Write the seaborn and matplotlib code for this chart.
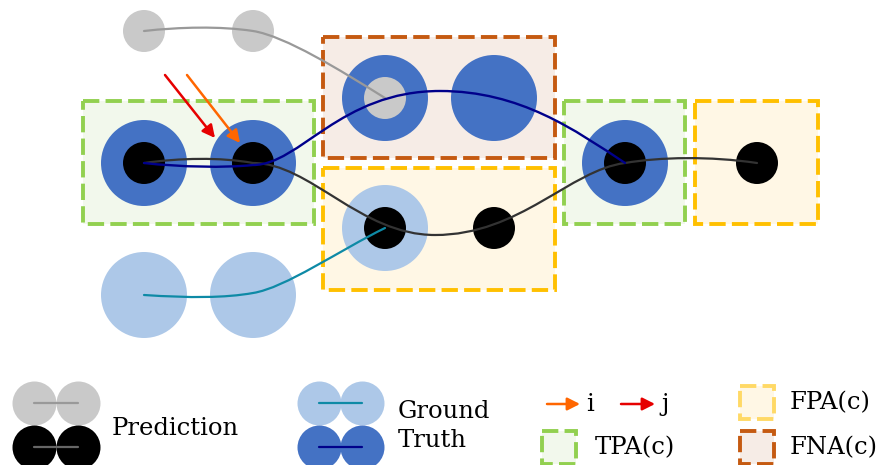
import matplotlib
matplotlib.use("Agg")
import matplotlib.pyplot as plt
import seaborn as sns
import pandas as pd
from matplotlib.patches import Rectangle, PathPatch
from matplotlib.path import Path

# ground-truth boxes (outer blue circles)
gt_x = [144, 253, 385, 494, 385, 625, 144, 253]
gt_y = [163, 163, 98, 98, 228, 163, 295, 295]
gt_kind = ["dark", "dark", "dark", "dark", "light", "dark", "light", "light"]

# predictions (inner circles)
pred_x = [144, 253, 144, 253, 385, 385, 494, 625, 757]
pred_y = [31, 31, 163, 163, 98, 228, 228, 163, 163]
pred_kind = ["gray", "gray", "black", "black", "gray", "black", "black", "black", "black"]

# association regions: (label, x0, y0, x1, y1)
region_kind = ["TPA", "FNA", "FPA", "TPA", "FPA"]
region_box = [(83, 101, 314, 224), (323, 37, 555, 158), (323, 168, 555, 290),
              (564, 101, 685, 224), (695, 101, 818, 224)]

colors = {
    "dark": "#4472C4", "light": "#ADC8E8",
    "gray": "#C9C9C9", "black": "#000000",
    "TPA": ("#92D050", "#F2F8EC"), "FNA": ("#C55A11", "#F6ECE6"),
    "FPA": ("#FFC000", "#FFF7E5"),
}

sns.set_style("white")
plt.rcParams["font.family"] = ["DejaVu Serif"]

fig = plt.figure(figsize=(8.82, 4.65), dpi=100)
ax = fig.add_axes([0, 0, 1, 1])
ax.set_xlim(0, 882)
ax.set_ylim(465, 0)
ax.axis("off")

dash = (0, (4.2, 1.6))
box_lw = 2.8

for kind, (x0, y0, x1, y1) in zip(region_kind, region_box):
    ec, fc = colors[kind]
    ax.add_patch(Rectangle((x0, y0), x1 - x0, y1 - y0, facecolor=fc, edgecolor=ec,
                           lw=box_lw, linestyle=dash, zorder=1))

big = (86 * 0.72) ** 2
small = (42 * 0.72) ** 2

gt = pd.DataFrame({"x": gt_x, "y": gt_y, "kind": gt_kind})
pr = pd.DataFrame({"x": pred_x, "y": pred_y, "kind": pred_kind})
sns.scatterplot(data=gt, x="x", y="y", hue="kind", palette=colors, s=big,
                linewidth=0, legend=False, ax=ax, zorder=2)
sns.scatterplot(data=pr, x="x", y="y", hue="kind", palette=colors, s=small,
                linewidth=0, legend=False, ax=ax, zorder=3)


def track(segs, color, lw=1.6):
    verts = [segs[0][0]]
    codes = [Path.MOVETO]
    for p0, c1, c2, p3 in segs:
        verts += [c1, c2, p3]
        codes += [Path.CURVE4] * 3
    ax.add_patch(PathPatch(Path(verts, codes), fill=False, edgecolor=color,
                           lw=lw, zorder=4, capstyle="round"))


track([((144, 31), (180, 27), (220, 26), (253, 31)),
       ((253, 31), (285, 36), (340, 70), (385, 98))], "#999999")
track([((144, 163), (180, 158), (220, 157), (253, 163)),
       ((253, 163), (310, 163), (360, 235), (435, 235)),
       ((435, 235), (520, 235), (570, 170), (625, 163)),
       ((625, 163), (660, 157), (710, 156), (757, 163))], "#333333")
track([((144, 163), (180, 167), (225, 168), (253, 165)),
       ((253, 165), (300, 165), (340, 91), (440, 91)),
       ((440, 91), (520, 91), (575, 130), (625, 163))], "#00008B", lw=1.7)
track([((144, 295), (190, 298), (225, 298), (253, 293)),
       ((253, 293), (285, 288), (340, 250), (385, 228))], "#0E8AA6")

arrow = dict(arrowstyle="-|>,head_length=0.75,head_width=0.38", lw=1.8,
             shrinkA=0, shrinkB=0)
ax.annotate("", xy=(215, 138), xytext=(165, 75),
            arrowprops=dict(arrow, color="#E60000"), zorder=5)
ax.annotate("", xy=(240, 143), xytext=(187, 75),
            arrowprops=dict(arrow, color="#FF6600"), zorder=5)

# legend
leg = (44 * 0.72) ** 2
for cx in (34, 78):
    ax.scatter([cx], [403], s=leg, color=colors["gray"], linewidth=0, zorder=2)
    ax.scatter([cx], [447], s=leg, color=colors["black"], linewidth=0, zorder=2)
for cx in (319, 362):
    ax.scatter([cx], [403], s=leg, color=colors["light"], linewidth=0, zorder=2)
    ax.scatter([cx], [447], s=leg, color=colors["dark"], linewidth=0, zorder=2)
ax.plot([34, 78], [403, 403], color="#999999", lw=1.6, zorder=3)
ax.plot([34, 78], [447, 447], color="#666666", lw=1.6, zorder=3)
ax.plot([319, 362], [403, 403], color="#0E8AA6", lw=1.6, zorder=3)
ax.plot([319, 362], [447, 447], color="#00008B", lw=1.6, zorder=3)

fs = 17.5
tc = "black"
ax.text(112, 428, "Prediction", fontsize=fs, va="center", color=tc)
ax.text(398, 411, "Ground", fontsize=fs, va="center", color=tc)
ax.text(398, 440, "Truth", fontsize=fs, va="center", color=tc)

ax.annotate("", xy=(580, 404), xytext=(547, 404),
            arrowprops=dict(arrow, color="#FF6600"))
ax.annotate("", xy=(655, 404), xytext=(621, 404),
            arrowprops=dict(arrow, color="#E60000"))
ax.text(586, 404, "i", fontsize=fs, va="center", color=tc)
ax.text(661, 404, "j", fontsize=fs, va="center", color=tc)

legend_boxes = [("TPA", 542, 431, "#92D050", "TPA(c)", 595),
                ("FPA", 740, 386, "#FFD966", "FPA(c)", 790),
                ("FNA", 740, 431, "#C55A11", "FNA(c)", 790)]
for kind, x0, y0, ec, label, tx in legend_boxes:
    ax.add_patch(Rectangle((x0, y0), 34, 33, facecolor=colors[kind][1], edgecolor=ec,
                           lw=box_lw, linestyle=dash, clip_on=False))
    ax.text(tx, y0 + 17, label, fontsize=fs, va="center", color=tc)

plt.savefig("out.png", dpi=100)
